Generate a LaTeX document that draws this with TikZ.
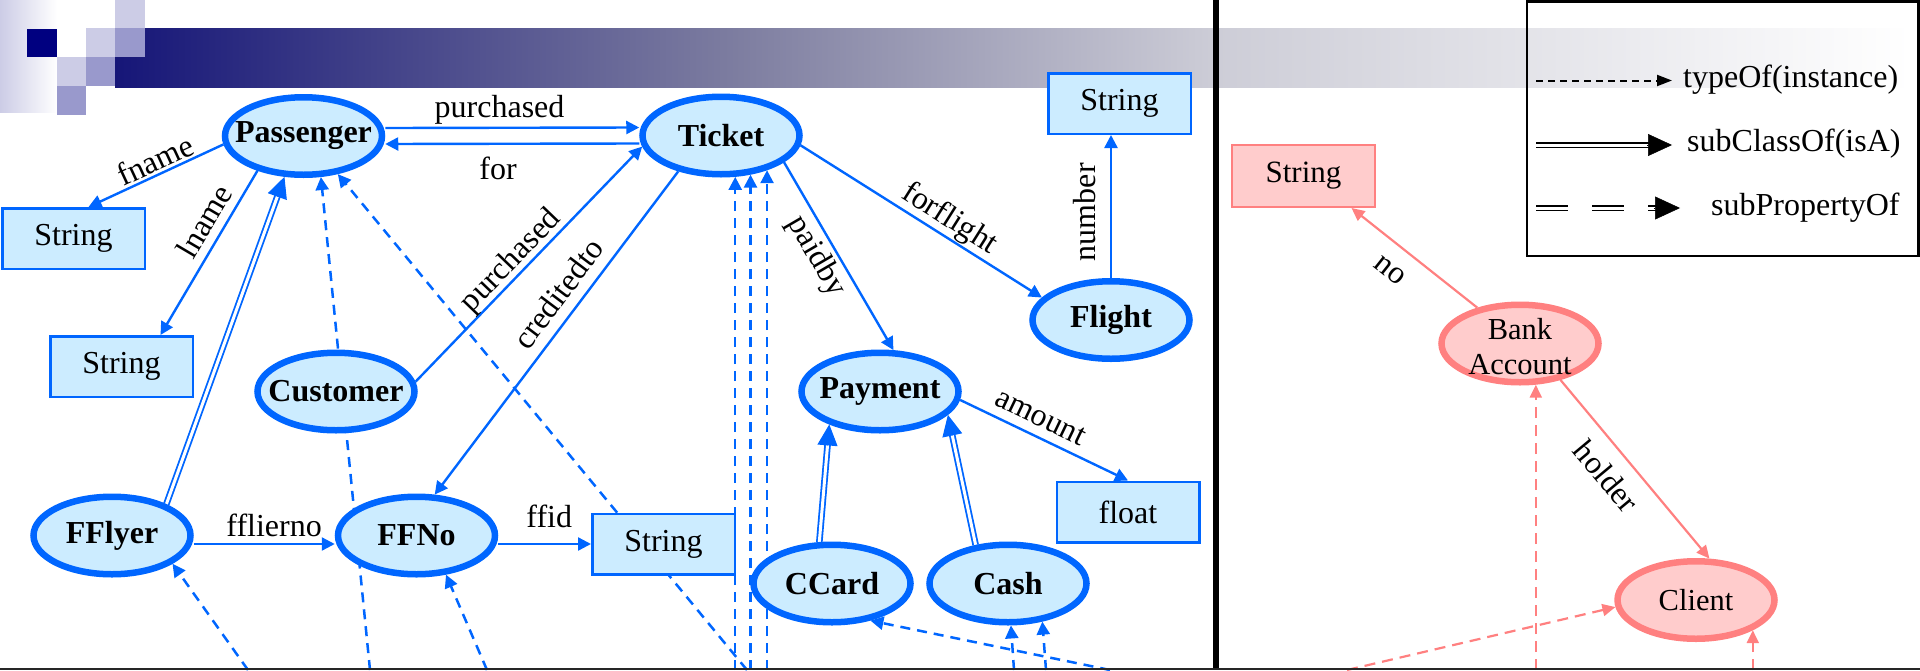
\documentclass[tikz,border=0pt]{standalone}
\usepackage{fontspec}
\setmainfont{Liberation Serif}
\usetikzlibrary{arrows.meta,shapes.geometric,calc}
\pgfdeclarelayer{bg}
\pgfdeclarelayer{edges}
\pgfdeclarelayer{fg}
\pgfsetlayers{bg,edges,main,fg}
\definecolor{eblue}{RGB}{0,102,255}
\definecolor{fblue}{RGB}{204,236,255}
\definecolor{epink}{RGB}{255,128,128}
\definecolor{fpink}{RGB}{255,204,204}
\definecolor{lav}{RGB}{204,204,230}
\definecolor{mlav}{RGB}{153,153,204}
\definecolor{navysq}{RGB}{0,0,128}
\definecolor{barA}{RGB}{22,22,120}
\definecolor{barB}{RGB}{125,125,160}
\definecolor{barC}{RGB}{205,205,215}
\tikzset{
  every node/.style={font=\fontsize{32}{36}\selectfont},
  cls/.style={ellipse, draw=eblue, fill=fblue, line width=6.5pt, minimum width=157pt, minimum height=77.5pt, inner sep=0pt, font=\fontsize{32}{36}\selectfont\bfseries},
  lit/.style={rectangle, draw=eblue, fill=fblue, line width=2.5pt, minimum width=142.5pt, minimum height=60.5pt, inner sep=0pt},
  pcls/.style={ellipse, draw=epink, fill=fpink, line width=6.5pt, minimum width=157pt, minimum height=77.5pt, inner sep=0pt, font=\fontsize{30.5}{35}\selectfont},
  plit/.style={rectangle, draw=epink, fill=fpink, line width=2pt, minimum width=143pt, minimum height=62pt, inner sep=0pt, font=\fontsize{31}{35}\selectfont},
  prop/.style={draw=eblue, line width=2.4pt, -{Triangle[length=13pt,width=13pt]}},
  inst/.style={draw=eblue, line width=2.5pt, dash pattern=on 10pt off 7pt, -{Triangle[length=13pt,width=13pt]}},
  dbl/.style={draw=eblue, line width=1.8pt, double=white, double distance=3pt},
  bigtip/.style={draw=eblue, line width=1pt, -{Triangle[length=21pt,width=20pt]}},
  pprop/.style={draw=epink, line width=2.2pt, -{Triangle[length=13pt,width=12pt]}},
  pinst/.style={draw=epink, line width=2.2pt, dash pattern=on 11pt off 7pt, -{Triangle[length=13pt,width=12pt]}},
  lbl/.style={inner sep=0pt},
  legtxt/.style={anchor=west, inner sep=0pt}
}
\begin{document}
\begin{tikzpicture}[x=1pt,y=-1pt]
\useasboundingbox (0,0) rectangle (1920,670);

% ---------- header ----------
\begin{pgfonlayer}{bg}
\fill[left color=lav, right color=white] (0,0) rectangle (57,112);
\fill[left color=barA, right color=barB] (115,28) rectangle (735,87);
\fill[left color=barB, right color=barC] (734.5,28) rectangle (1216,87);
\fill[left color=barC, right color=white] (1215.5,28) rectangle (1910,87);
\fill[navysq] (27,29) rectangle (57,57);
\fill[lav] (115,0) rectangle (145,28);
\fill[lav] (86,28) rectangle (115,57);
\fill[mlav] (115,28) rectangle (145,57);
\fill[lav] (57,57) rectangle (86,86);
\fill[mlav] (86,57) rectangle (115,86);
\fill[mlav] (57,86) rectangle (86,115);
\end{pgfonlayer}

% ---------- nodes ----------
\node[cls] (Passenger) at (303.5,136) {\makebox[0pt]{Passenger}};
\node[cls] (Ticket) at (721,135.5) {\makebox[0pt]{Ticket}};
\node[lit] (S0) at (1119.5,103.5) {String};
\node[cls] (Flight) at (1111,320) {\makebox[0pt]{Flight}};
\node[lit] (S1) at (73.5,238.5) {String};
\node[lit] (S2) at (121.5,366.5) {String};
\node[cls] (Customer) at (336,391.5) {\makebox[0pt]{Customer}};
\node[cls] (Payment) at (880,391.5) {\makebox[0pt]{Payment}};
\node[lit] (float) at (1128,512) {float};
\node[cls] (FFlyer) at (112,535.5) {\makebox[0pt]{FFlyer}};
\node[cls] (FFNo) at (416.5,535.5) {\makebox[0pt]{FFNo}};
\node[lit] (S3) at (663.5,544) {String};
\node[cls] (CCard) at (832,583.5) {\makebox[0pt]{CCard}};
\node[cls] (Cash) at (1008,583.5) {\makebox[0pt]{Cash}};
\node[plit] (PS) at (1303.5,176) {String};
\node[pcls] (Bank) at (1520,343.5) {\raisebox{-13pt}[0pt][0pt]{\makebox[0pt]{\begin{tabular}{@{}c@{}}Bank\\Account\end{tabular}}}};
\node[pcls] (Client) at (1696,600) {\makebox[0pt]{Client}};

\coordinate (bot) at (0,670);
\coordinate (d1) at (370,670);
\coordinate (d2) at (747,670);
\coordinate (d3) at (248,670);
\coordinate (d4) at (487,670);
\coordinate (d5) at (1110,670);
\coordinate (d6) at (1014,670);
\coordinate (d7) at (1046,670);
\coordinate (d8) at (1347,670);

% ---------- edges ----------
\begin{pgfonlayer}{edges}
\draw[prop] ([yshift=8pt]Passenger.east) -- node[lbl, pos=.45, above=2pt] {purchased} ([yshift=8pt]Ticket.west);
\draw[prop] ([yshift=-8pt]Ticket.west) -- node[lbl, pos=.556, below=12pt] {for} ([yshift=-8pt]Passenger.east);
\draw[prop] (Passenger.186) -- node[lbl, sloped, pos=.46, above=2pt] {fname} ([xshift=15pt]S1.north);
\draw[prop] (Passenger.217) -- node[lbl, sloped, pos=.37, above=8pt] {lname} ([xshift=39pt]S2.north);
\draw[prop] (Customer.7) -- node[lbl, sloped, pos=.47, above=-1pt] {purchased} (Ticket.188);
\draw[prop] (Ticket.220) -- node[lbl, sloped, pos=.42, above=10pt] {creditedto} (FFNo.66);
\draw[prop] (Ticket.-7) -- node[lbl, sloped, pos=.58, above=1pt] {forflight} (Flight.162);
\draw[prop] (Flight.north) -- node[lbl, pos=.46, rotate=90, anchor=south, inner sep=13.5pt] {number} (Flight.north |- S0.south);
\draw[prop] (Ticket.337) -- node[lbl, sloped, pos=.45, below=4pt] {paidby} (Payment.72);
\draw[prop] (Payment.-6) -- node[lbl, sloped, pos=.43, above=9pt] {amount} (float.north);
\draw[prop] ([yshift=-8.5pt]FFlyer.east) -- node[lbl, pos=.57, above=6pt] {fflierno} ([yshift=-8.5pt]FFNo.west);
\draw[prop] ([yshift=-8.5pt]FFNo.east) -- node[lbl, pos=.55, above=15pt] {ffid} (S3.west);

% subClassOf
\draw[dbl] (FFlyer.30) -- ($(Passenger.245)!20pt!(FFlyer.30)$);
\draw[bigtip] ($(Passenger.245)!21pt!(FFlyer.30)$) -- (Passenger.245);
\draw[dbl] (CCard.107) -- ($(Payment.213)!20pt!(CCard.107)$);
\draw[bigtip] ($(Payment.213)!21pt!(CCard.107)$) -- (Payment.213);
\draw[dbl] (Cash.130) -- ($(Payment.341)!20pt!(Cash.130)$);
\draw[bigtip] ($(Payment.341)!21pt!(Cash.130)$) -- (Payment.341);

% typeOf (instances)
\draw[inst] (d1) -- (Passenger.293);
\draw[inst] (d2) -- (Passenger.312);
\draw[inst] (Ticket.289 |- bot) -- (Ticket.289);
\draw[inst] (Ticket.307 |- bot) -- (Ticket.307);
\draw[inst] (Ticket.323 |- bot) -- (Ticket.323);
\draw[inst] (d3) -- (FFlyer.335);
\draw[inst] (d4) -- (FFNo.307);
\draw[inst] (d5) -- (CCard.316);
\draw[inst] (d6) -- (Cash.274);
\draw[inst] (d7) -- (Cash.312);

% right panel
\draw[pprop] (Bank.140) -- node[lbl, sloped, pos=.57, below=17pt] {no} ([xshift=48pt]PS.south);
\draw[pprop] (Bank.318) -- node[lbl, sloped, pos=.445, below=14pt] {holder} (Client.72);
\draw[pinst] (Bank.291 |- bot) -- (Bank.291);
\draw[pinst] (d8) -- (Client.185);
\draw[pinst] (Client.332 |- bot) -- (Client.332);
\end{pgfonlayer}

% ---------- foreground: separators and legend ----------
\begin{pgfonlayer}{fg}
\draw[line width=6pt] (1216,0) -- (1216,670);
\draw[line width=2.5pt, black!85] (0,668.75) -- (1920,668.75);
\draw[line width=2.5pt] (1527,1.5) rectangle (1918.5,256);
\coordinate (l1a) at (1536,80.5); \coordinate (l1b) at (1672,80.5);
\draw[line width=2pt, dash pattern=on 7pt off 5pt, -{Triangle[length=15pt,width=11pt]}] (l1a) -- (l1b);
\node[legtxt] (t1) at (1683,80) {typeOf(instance)};
\coordinate (l2a) at (1536,145); \coordinate (l2b) at (1650,145); \coordinate (l2c) at (1647,145); \coordinate (l2d) at (1672,145);
\draw[line width=1.7pt, double=white, double distance=3pt] (l2a) -- (l2b);
\draw[line width=0.5pt, -{Triangle[length=24pt,width=22pt]}] (l2c) -- (l2d);
\node[legtxt] (t2) at (1687,144) {subClassOf(isA)};
\coordinate (l3a) at (1536,208); \coordinate (l3b) at (1656,208); \coordinate (l3c) at (1654,208); \coordinate (l3d) at (1680,208);
\draw[line width=1.7pt, double=white, double distance=3pt, dash pattern=on 32pt off 24pt] (l3a) -- (l3b);
\draw[line width=0.5pt, -{Triangle[length=25pt,width=23pt]}] (l3c) -- (l3d);
\node[legtxt] (t3) at (1711,208) {subPropertyOf};
\end{pgfonlayer}
\end{tikzpicture}
\end{document}
